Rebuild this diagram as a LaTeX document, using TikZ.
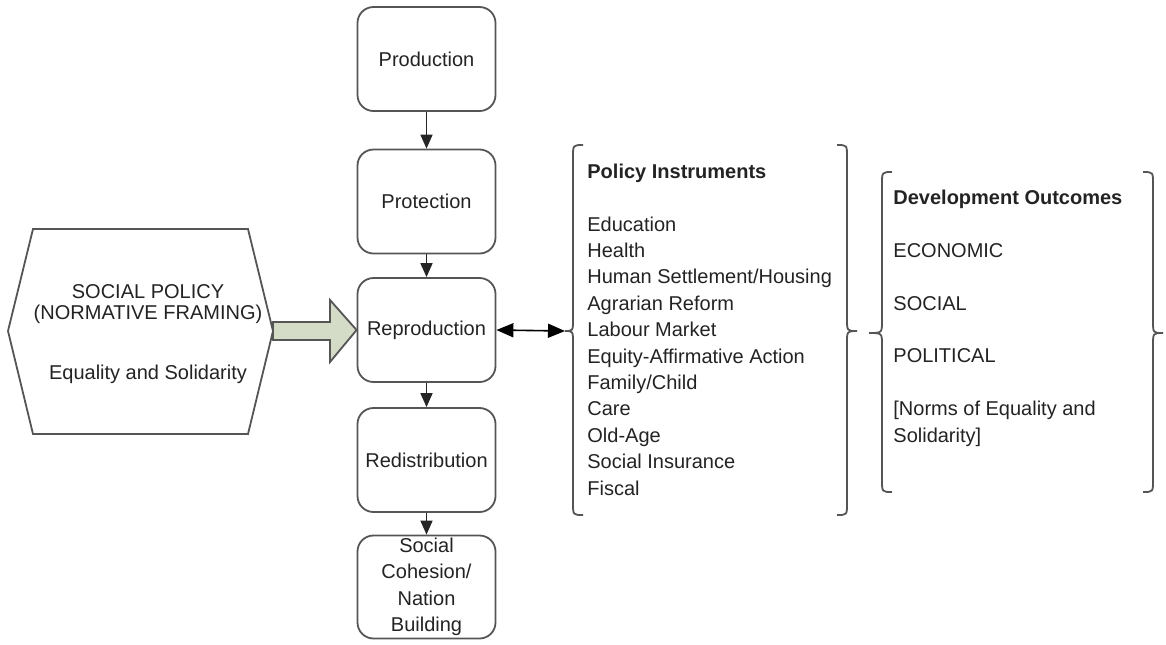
\documentclass[tikz,border=0pt]{standalone}
\usepackage{fontspec}
\setmainfont{Liberation Sans}
\usepackage{tikz}
\usetikzlibrary{arrows.meta, positioning}
\definecolor{gris}{RGB}{85,85,85}
\definecolor{encre}{RGB}{35,35,35}
\definecolor{sauge}{RGB}{212,219,199}

\begin{document}
\begin{tikzpicture}[x=0.5pt, y=-0.5pt, font=\fontsize{10}{13.2}\selectfont, text=encre,
	etape/.style={draw=gris, line width=0.9pt, rounded corners=8pt, minimum width=69pt, minimum height=52pt, align=center, inner sep=1pt},
	fleche/.style={-{Triangle[length=7pt, width=6pt]}, draw=black!85, line width=0.8pt},
	doublefleche/.style={{Triangle[length=8.5pt, width=7pt]}-{Triangle[length=8.5pt, width=7pt]}, draw=black, line width=0.8pt},
	accolade/.style={draw=gris, line width=0.9pt}]
				\useasboundingbox (0,0) rectangle (1166,644);
				
				% Colonne des etapes
				\node[etape] (prod) at (426.5,59) {Production};
				\node[etape] (prot) at (426.5,201.5) {Protection};
				\node[etape] (repro) at (426.5,330) {Reproduction};
				\node[etape] (redis) at (426.5,460) {Redistribution};
				\node[etape, minimum height=51.5pt] (cohes) at (426.5,587) {Social\\Cohesion/\\Nation\\Building};
				
				\draw[fleche] (prod) -- (prot);
				\draw[fleche] (prot) -- (repro);
				\draw[fleche] (repro) -- (redis);
				\draw[fleche] (redis) -- (cohes);
				
				% Hexagone politique sociale
				\draw[draw=gris, line width=0.9pt, fill=white] (33,229) -- (248,229) -- (273,331) coordinate (hexdroit) -- (248,434) -- (33,434) -- (8,331) -- cycle;
				\node[anchor=base] (titre) at (148,298) {SOCIAL POLICY};
				\node[anchor=base] (cadre) at (148,319) {(NORMATIVE FRAMING)};
				\node[anchor=base] (valeurs) at (148,379) {Equality and Solidarity};
				
				\draw[draw=gris, line width=0.9pt, fill=sauge] (hexdroit |- 0,322) -- (330,322) -- (330,300) -- (repro.west) -- (330,362) -- (330,340) -- (hexdroit |- 0,340) -- cycle;
				
				% Accolades instruments
				\draw[accolade] (583,145) .. controls (573,145) .. (573,157) -- (573,319) .. controls (573,331) .. (565,331) coordinate (instrpointe) .. controls (573,331) .. (573,343) -- (573,503) .. controls (573,515) .. (583,515);
				\draw[accolade] (837,145) .. controls (847,145) .. (847,157) -- (847,319) .. controls (847,331) .. (857,331) .. controls (847,331) .. (847,343) -- (847,503) .. controls (847,515) .. (837,515);
				
				\draw[doublefleche] (repro.east) -- (instrpointe);
				
				\node[anchor=base west, align=left, inner sep=0] (instr) at (587,495)
				{\textbf{Policy Instruments}\\[13.2pt]Education\\Health\\Human Settlement/Housing\\Agrarian Reform\\Labour Market\\Equity-Affirmative Action\\Family/Child\\Care\\Old-Age\\Social Insurance\\Fiscal};
				
				% Accolades resultats
				\draw[accolade] (892,172) .. controls (882,172) .. (882,184) -- (882,321) .. controls (882,333) .. (869,333) .. controls (882,333) .. (882,345) -- (882,480) .. controls (882,492) .. (892,492);
				\draw[accolade] (1143,172) .. controls (1153,172) .. (1153,184) -- (1153,321) .. controls (1153,333) .. (1163,333) .. controls (1153,333) .. (1153,345) -- (1153,480) .. controls (1153,492) .. (1143,492);
				
				\node[anchor=base west, align=left, inner sep=0] (result) at (893,442)
				{\textbf{Development Outcomes}\\[13.2pt]ECONOMIC\\[13.2pt]SOCIAL\\[13.2pt]POLITICAL\\[13.2pt]{[}Norms of Equality and\\Solidarity{]}};
			\end{tikzpicture}
\end{document}
